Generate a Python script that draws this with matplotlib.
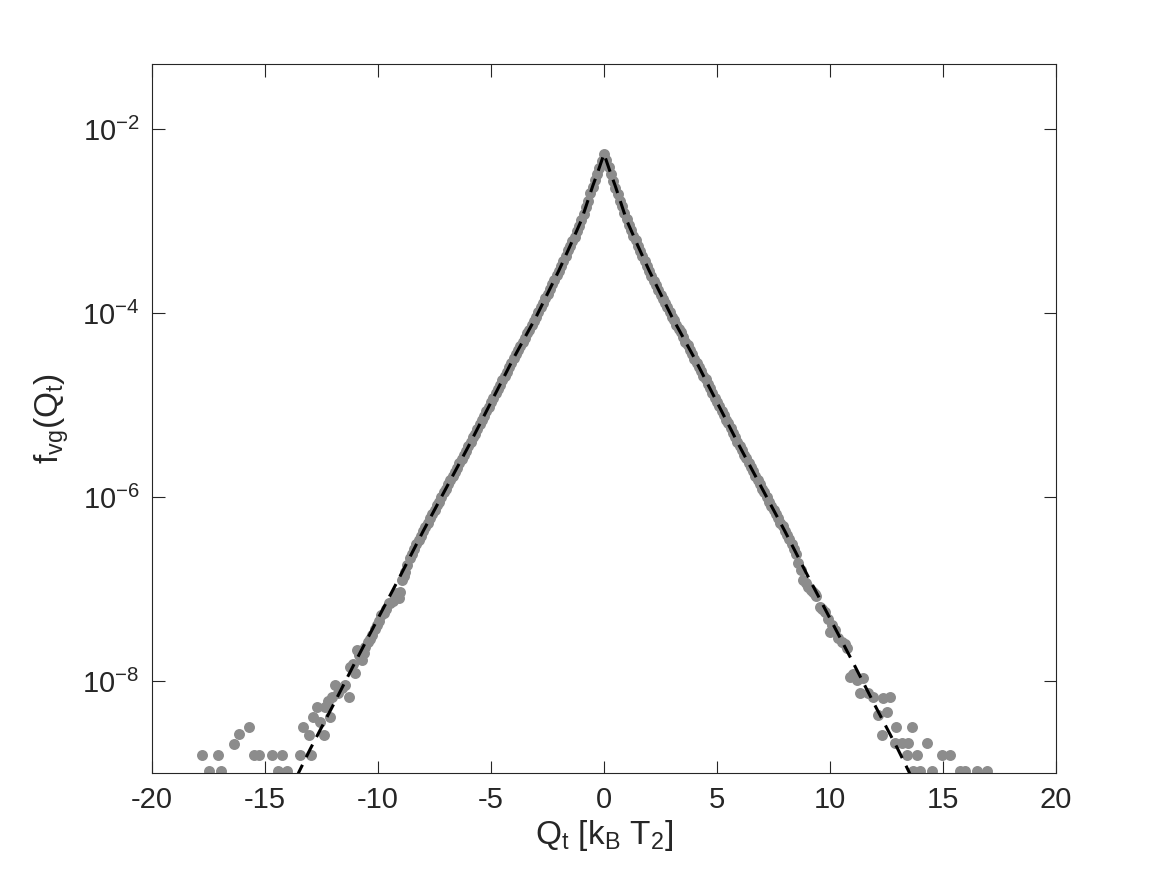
import numpy as np
import matplotlib.pyplot as plt

plt.rcParams['font.family'] = ['Liberation Sans Narrow', 'Liberation Sans', 'DejaVu Sans']
plt.rcParams['mathtext.default'] = 'regular'
plt.rcParams['axes.unicode_minus'] = False

# ---- histogram points (log10 of f_vg) ----
# central part, bins of 0.1
left_body_q = np.round(np.arange(-8.4, -0.05, 0.1), 1)
left_body_log = [-6.56, -6.51, -6.47, -6.42, -6.37, -6.33, -6.28, -6.23, -6.19, -6.14,
                 -6.09, -6.05, -6.00, -5.95, -5.91, -5.86, -5.82, -5.77, -5.73, -5.68,
                 -5.63, -5.59, -5.54, -5.50, -5.45, -5.40, -5.35, -5.31, -5.26, -5.21,
                 -5.16, -5.12, -5.07, -5.02, -4.97, -4.92, -4.87, -4.83, -4.78, -4.73,
                 -4.68, -4.64, -4.59, -4.54, -4.49, -4.45, -4.40, -4.36, -4.31, -4.27,
                 -4.22, -4.18, -4.13, -4.09, -4.04, -3.99, -3.94, -3.89, -3.84, -3.79,
                 -3.74, -3.69, -3.64, -3.59, -3.54, -3.49, -3.43, -3.38, -3.32, -3.27,
                 -3.22, -3.17, -3.11, -3.05, -2.99, -2.92, -2.85, -2.78, -2.70, -2.63,
                 -2.55, -2.49, -2.42, -2.35]
peak_q = [0.0]
peak_log = [-2.27]
right_body_q = np.round(np.arange(0.1, 8.45, 0.1), 1)
right_body_log = [-2.34, -2.41, -2.49, -2.56, -2.64, -2.71, -2.78, -2.84, -2.91, -2.98,
                  -3.04, -3.10, -3.16, -3.21, -3.27, -3.33, -3.38, -3.44, -3.49, -3.54,
                  -3.60, -3.65, -3.70, -3.75, -3.80, -3.85, -3.89, -3.94, -3.99, -4.04,
                  -4.08, -4.13, -4.17, -4.21, -4.26, -4.31, -4.35, -4.40, -4.45, -4.50,
                  -4.54, -4.59, -4.63, -4.68, -4.72, -4.77, -4.82, -4.87, -4.92, -4.97,
                  -5.01, -5.06, -5.11, -5.16, -5.20, -5.25, -5.30, -5.35, -5.40, -5.45,
                  -5.49, -5.54, -5.58, -5.63, -5.67, -5.72, -5.77, -5.82, -5.86, -5.91,
                  -5.95, -6.00, -6.05, -6.10, -6.14, -6.19, -6.23, -6.28, -6.32, -6.37,
                  -6.41, -6.46, -6.51, -6.56]

# noisy tails
left_q = [-8.5, -8.6, -8.7, -8.79, -8.87, -8.94, -9.01, -9.08, -9.17, -9.25, -9.35,
          -9.45, -9.53, -9.65, -9.75, -9.85, -9.95, -10.04, -10.15, -10.27, -10.37,
          -10.45, -10.56, -10.64, -10.71, -10.83, -10.93, -11.0, -11.12, -11.23, -11.3,
          -11.45, -11.6, -11.75, -11.89, -12.04, -12.11, -12.2, -12.33, -12.4, -12.55,
          -12.7, -12.88, -12.95, -13.07, -13.33, -13.44, -14.03, -14.25, -14.42, -14.69,
          -15.25, -15.5, -15.72, -16.14, -16.39, -16.95, -17.08, -17.46, -17.79]
left_log = [-6.62, -6.66, -6.74, -6.82, -6.86, -6.90, -7.03, -7.10, -7.04, -7.10, -7.13,
            -7.15, -7.15, -7.22, -7.26, -7.28, -7.35, -7.39, -7.44, -7.50, -7.54,
            -7.58, -7.63, -7.70, -7.77, -7.72, -7.66, -7.91, -7.82, -7.85, -8.17,
            -8.04, -8.08, -8.13, -8.04, -8.17, -8.39, -8.22, -8.28, -8.59, -8.45,
            -8.28, -8.39, -8.80, -8.59, -8.50, -8.80, -8.98, -8.80, -8.98, -8.80,
            -8.80, -8.80, -8.50, -8.58, -8.68, -8.98, -8.80, -8.98, -8.80]

right_q = [8.5, 8.6, 8.7, 8.82, 8.93, 9.04, 9.15, 9.25, 9.34, 9.4, 9.56, 9.66, 9.78,
           9.9, 10.0, 10.1, 10.2, 10.37, 10.55, 10.65, 10.74, 10.88, 11.0, 11.18, 11.33,
           11.47, 11.7, 11.92, 12.14, 12.29, 12.36, 12.51, 12.65, 12.88, 12.92, 13.17,
           13.39, 13.47, 13.61, 13.69, 13.84, 13.98, 14.28, 14.5, 14.94, 15.31, 15.75,
           15.97, 16.49, 16.93]
right_log = [-6.62, -6.72, -6.79, -6.90, -6.93, -6.98, -7.01, -7.03, -7.05, -7.08, -7.20,
             -7.22, -7.25, -7.33, -7.47, -7.39, -7.45, -7.53, -7.58, -7.60, -7.64, -7.96,
             -7.92, -7.99, -8.13, -7.97, -8.13, -8.17, -8.37, -8.59, -8.18, -8.34, -8.17,
             -8.67, -8.50, -8.67, -8.80, -8.67, -8.50, -8.98, -8.80, -8.98, -8.67, -8.98,
             -8.80, -8.80, -8.98, -8.98, -8.98, -8.98]

# ---- variance-gamma fit (dashed line) ----
fit_q = [-13.6, -13.5, -13, -12, -11, -10, -9, -8, -7, -6, -5, -4, -3, -2, -1.5, -1,
         -0.5, -0.25, 0, 0.25, 0.5, 1, 1.5, 2, 3, 4, 5, 6, 7, 8, 9, 10, 11, 12, 13,
         13.5, 13.6]
fit_log = [-9.05, -8.99, -8.74, -8.27, -7.79, -7.32, -6.85, -6.37, -5.91, -5.45,
           -4.97, -4.49, -4.04, -3.54, -3.27, -2.99, -2.62, -2.45, -2.27, -2.45,
           -2.62, -2.99, -3.27, -3.54, -4.04, -4.49, -4.97, -5.45, -5.91, -6.37,
           -6.85, -7.32, -7.79, -8.27, -8.74, -8.99, -9.05]

pts_q = np.concatenate([left_q, left_body_q, peak_q, right_body_q, right_q])
pts_f = 10.0 ** np.concatenate([left_log, left_body_log, peak_log, right_body_log, right_log])

fig = plt.figure(figsize=(11.67, 8.75), dpi=100)
ax = fig.add_axes([152 / 1167, 1 - 773 / 875, (1056 - 152) / 1167, (773 - 64) / 875])

ax.plot(pts_q, pts_f, 'o', color='#8c8c8c', markersize=7.9, markeredgewidth=0)
ax.plot(fit_q, 10.0 ** np.array(fit_log), color='black', lw=2.2, dashes=(4.6, 2.8))

ax.set_yscale('log')
ax.set_xlim(-20, 20)
ax.set_ylim(1e-9, 0.0509)
ax.set_xticks(np.arange(-20, 21, 5))
ax.set_yticks([1e-8, 1e-6, 1e-4, 1e-2])
ax.set_yticklabels([r'$10^{-8}$', r'$10^{-6}$', r'$10^{-4}$', r'$10^{-2}$'])
ax.minorticks_off()

axc = '#262626'
for s in ax.spines.values():
    s.set_color(axc)
    s.set_linewidth(0.8)
ax.tick_params(direction='in', length=9, width=0.8, colors=axc, labelsize=21,
               top=True, right=True, pad=9)

ax.set_xlabel(r'$Q_t$ [$k_B$ $T_2$]', fontsize=24, color=axc, labelpad=3)
ax.set_ylabel(r'$f_{vg}(Q_t)$', fontsize=24, color=axc, labelpad=8)

fig.savefig('out.png', dpi=100)
